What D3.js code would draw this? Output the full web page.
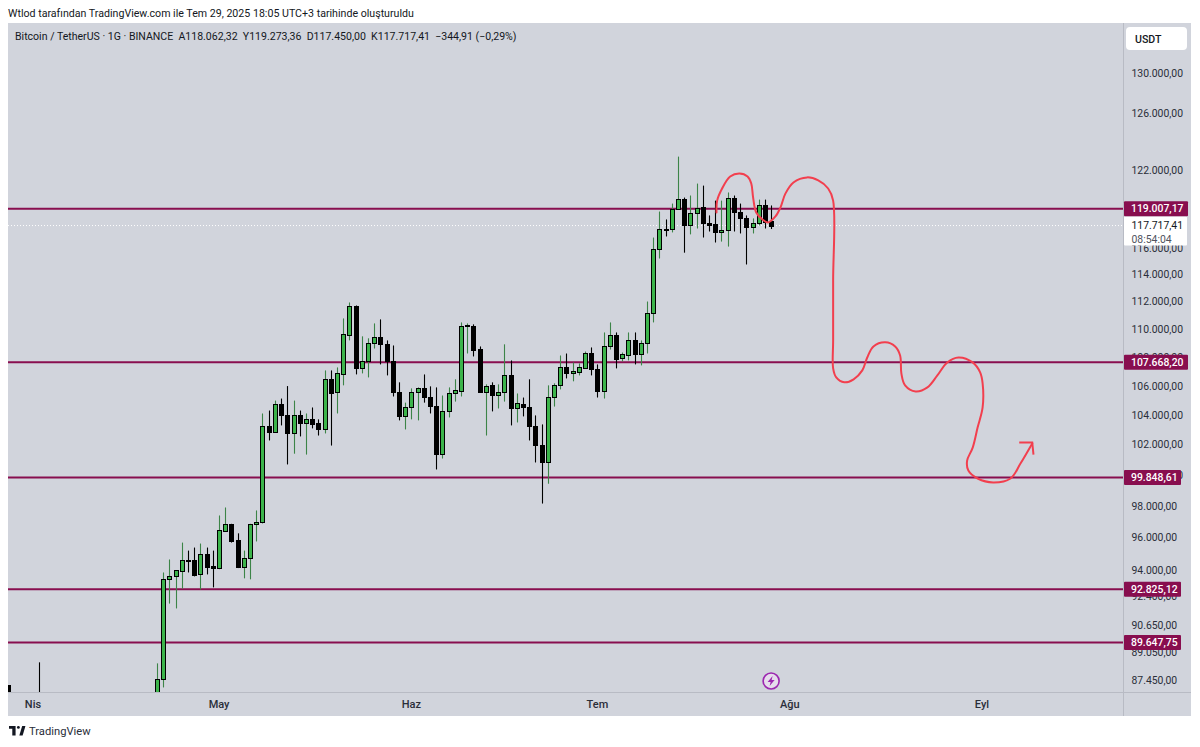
<!DOCTYPE html>
<html><head><meta charset="utf-8">
<script src="https://cdn.jsdelivr.net/npm/d3@7"></script>
<style>html,body{margin:0;padding:0;background:#fff}svg{display:block}text{font-family:Roboto,sans-serif}</style>
</head><body><div id="c"></div>
<script>
const titleText="Wtlod tarafından TradingView.com ile Tem 29, 2025 18:05 UTC+3 tarihinde oluşturuldu";
const legendParts=["Bitcoin / TetherUS · 1G · BINANCE","A118.062,32","Y119.273,36","D117.450,00","K117.717,41","−344,91 (−0,29%)"];
const firstCandle="2025-04-21";
const opens=[85200,87520,93430,93610,93910,94590,94590,93730,94960,94220,94100,96400,96840,95830,94160,94710,96840,96970,103240,102900,104800,104050,102770,104050,103450,103720,103450,103040,106470,105560,106810,109570,111660,107230,107720,109000,109430,108930,107720,105560,103920,104530,105560,105840,105280,104660,101420,104260,105490,105630,110220,110220,108630,105560,106050,105350,105560,106740,104460,104800,104590,103240,102020,100900,105280,106050,107300,106880,106950,107230,108280,107160,105630,108780,109570,107930,108140,109210,108210,109000,111150,115950,117490,117420,119030,119800,117730,118650,119190,117880,117800,117190,117340,119890,118730,118270,117570,117880,119340,118062.32];
const highs=[88440,93850,94650,93980,95700,95200,95390,95640,95390,95200,97410,97920,96880,96280,95200,96880,97730,104120,104320,105000,105140,106000,105000,104320,104120,104530,103720,107090,107090,107300,110790,111950,111730,109500,109360,110430,110720,109210,108850,106260,104860,105840,105910,106810,105980,105910,105350,105910,106470,110500,110430,110360,108780,106120,106260,106120,108930,107790,105490,105210,106470,103990,103380,106050,106190,108140,108280,107650,107580,108420,108710,107510,109780,110500,109780,108350,109780,109780,109210,112020,116800,118800,118190,119420,123140,119890,120050,120990,120830,118500,119650,119650,120290,120050,119420,118500,118270,119730,119730,119273.36];
const lows=[85100,87060,91960,91670,92870,93850,93610,92810,93730,92940,94050,96400,95700,94120,93490,93430,95770,96900,102300,102840,103310,100710,101420,102570,101360,103110,102630,102770,101960,104120,106050,109210,106810,106880,106600,108630,107510,106740,105280,103650,103040,103720,103650,104860,104120,100380,101100,103850,104930,105280,108280,108070,105560,102630,104260,104460,104930,103310,103510,103920,102300,100840,98170,99450,104590,105770,106530,106330,106740,107230,106740,105210,105140,108560,107230,107720,107790,107510,107440,108280,110500,115210,116880,117190,119030,115650,117040,117490,116800,117260,116420,116490,116110,117260,117110,114760,117110,117730,117490,117450];
const closes=[87520,93430,93610,93980,94590,94530,93670,94960,94160,94100,96460,96840,95770,94160,94710,96840,96970,103240,102900,104800,104050,102770,104050,103450,103720,103380,103040,106470,105490,106880,109640,111660,107230,107720,109000,109430,108930,107720,105560,103920,104530,105560,105840,105280,104660,101420,104260,105490,105700,110220,110290,108560,105560,105980,105350,105560,106740,104460,104860,104590,103240,102020,100900,105280,106050,107300,106880,107020,107300,108280,107160,105630,108780,109570,107860,108210,109210,108210,109000,111150,115950,117490,117420,119030,119800,117730,118650,119110,117880,117730,117190,117340,119890,118730,118270,117570,117880,119340,117960,117717.41];
const earlyDates=["2025-03-28","2025-04-02"];
const earlyOpens=[87200,85000];
const earlyHighs=[87200,88500];
const earlyLows=[84000,82000];
const earlyCloses=[84300,83000];
const levels=[119007.17,107668.20,99848.61,92825.12,89647.75];
const levelLabels=["119.007,17","107.668,20","99.848,61","92.825,12","89.647,75"];
const axisValues=[130000,126650,122000,118000,116000,114000,112000,110000,108000,106000,104000,102000,100000,98000,96000,94000,92400,90650,89050,87450];
const axisLabels=["130.000,00","126.000,00","122.000,00","118.000,00","116.000,00","114.000,00","112.000,00","110.000,00","108.000,00","106.000,00","104.000,00","102.000,00","100.000,00","98.000,00","96.000,00","94.000,00","92.400,00","90.650,00","89.050,00","87.450,00"];
const monthDates=["2025-04-01","2025-05-01","2025-06-01","2025-07-01","2025-08-01","2025-09-01"];
const monthLabels=["Nis","May","Haz","Tem","Ağu","Eyl"];
const lastPrice=117717.41, lastLabel="117.717,41", countdown="08:54:04";
// freehand forecast: days after 1 April, price
const sketchDays=[110.2,110.3,111.1,112.4,113.9,115.2,115.8,116.1,116.6,117.6,118.5,119.7,120.5,121.3,122.6,124.8,126.6,128.2,129,129,129,129,129.5,130.8,132.3,133.7,134.5,135.5,137.4,139,139.8,140,140.6,142.3,144.2,145.8,147.4,149.2,151.5,152.7,153.1,153.1,152.3,151.5,150.6,150.8,152.3,154.8,157.6,159.2,161.1];
const sketchPrices=[118726,119650,120600,121550,121790,121550,120990,119890,118726,118190,117960,118420,119110,120200,121080,121480,121240,120600,119650,113570,109210,107230,106600,106260,106470,107090,108000,108780,109070,108780,108140,106880,106050,105630,105910,106740,107650,108000,107650,106950,106190,104530,103180,101820,100960,100310,99790,99530,99790,100770,102100];
const arrowDays=[159,161.1,161.3];
const arrowPrices=[102170,102170,101360];

const W=1200,H=747,L=8,R=1123,PR=1191,T=23,B=692,BB=716;
const bg="#d1d4dc",maroon="#880e4f",red="#f23f4e",up="#3cb44b",upWick="#3c8448",ink="#131722";
const day0=new Date("2025-04-01T00:00:00Z");
const toDate=s=>new Date(s+"T00:00:00Z");
const x=d3.scaleUtc().domain([toDate("2025-04-01"),toDate("2025-09-01")]).range([33,982]);
const y=d3.scaleLog().domain([130000,87450]).range([73.6,680.6]);
const svg=d3.select("#c").append("svg").attr("width",W).attr("height",H);
svg.append("rect").attr("x",L).attr("y",T).attr("width",PR-L).attr("height",BB-T).attr("fill",bg);
svg.append("defs").append("clipPath").attr("id","pane").append("rect").attr("x",L).attr("y",T).attr("width",R-L).attr("height",B-T);
svg.append("line").attr("x1",L).attr("x2",PR).attr("y1",B+.5).attr("y2",B+.5).attr("stroke","#b8bbc4");
svg.append("line").attr("x1",R+.5).attr("x2",R+.5).attr("y1",T).attr("y2",BB).attr("stroke","#b8bbc4");
svg.append("text").attr("x",8).attr("y",17).attr("font-size",10.63).attr("fill",ink).text(titleText);
svg.append("text").attr("y",40).attr("x",15).attr("font-size",10.55).attr("fill",ink).style("white-space","pre").text(legendParts.join("  "));

const candles=earlyDates.map((d,i)=>({d:toDate(d),o:earlyOpens[i],h:earlyHighs[i],l:earlyLows[i],c:earlyCloses[i]}))
 .concat(opens.map((o,i)=>({d:d3.utcDay.offset(toDate(firstCandle),i),o,h:highs[i],l:lows[i],c:closes[i]})));
const pane=svg.append("g").attr("clip-path","url(#pane)");
pane.append("line").attr("x1",L).attr("x2",R).attr("y1",y(lastPrice)).attr("y2",y(lastPrice)).attr("stroke","#fff").attr("stroke-dasharray","1 2");
pane.selectAll(".lvl").data(levels).join("line").attr("x1",L).attr("x2",R).attr("y1",d=>y(d)).attr("y2",d=>y(d)).attr("stroke",maroon).attr("stroke-width",2);
const g=pane.selectAll(".cd").data(candles).join("g");
g.append("line").attr("x1",d=>Math.round(x(d.d))+.5).attr("x2",d=>Math.round(x(d.d))+.5).attr("y1",d=>y(d.h)).attr("y2",d=>y(d.l))
 .attr("stroke",d=>d.c>=d.o?upWick:"#000").attr("stroke-width",1.1);
g.append("rect").attr("x",d=>Math.round(x(d.d))-1.5).attr("width",4).attr("y",d=>Math.round(y(Math.max(d.o,d.c)))+.5)
 .attr("height",d=>Math.max(1,Math.round(y(Math.min(d.o,d.c)))-Math.round(y(Math.max(d.o,d.c)))))
 .attr("fill",d=>d.c>=d.o?up:"#000").attr("stroke","#000").attr("stroke-width",1);
const dayX=n=>d3.utcMillisecond.offset(day0,n*864e5);
const ln=d3.line().x(d=>x(dayX(d[0]))).y(d=>y(d[1]));
pane.append("path").attr("d",ln.curve(d3.curveCatmullRom.alpha(.5))(sketchDays.map((d,i)=>[d,sketchPrices[i]]))).attr("fill","none").attr("stroke",red).attr("stroke-width",2).attr("stroke-linecap","round").attr("stroke-linejoin","round");
pane.append("path").attr("d",ln.curve(d3.curveLinear)(arrowDays.map((d,i)=>[d,arrowPrices[i]]))).attr("fill","none").attr("stroke",red).attr("stroke-width",2);

const ax=svg.append("g");
ax.selectAll("text").data(axisValues).join("text").attr("x",1131.5).attr("y",d=>y(d)+3.5).attr("fill","#2a2e39").attr("font-size",10.4).text((d,i)=>axisLabels[i]);
const tm=svg.append("g");
tm.selectAll("text").data(monthDates).join("text").attr("x",d=>x(toDate(d))).attr("y",708).attr("text-anchor","middle").attr("font-size",11).attr("font-weight",500).attr("fill","#2a2e39").text((d,i)=>monthLabels[i]);

const tags=svg.append("g");
const tagW=[64,64,57,57,57];
levels.forEach((v,i)=>{
 if(i==0){
  tags.append("rect").attr("x",1124).attr("y",y(lastPrice)-9).attr("width",63).attr("height",29).attr("fill","#fff").attr("rx",1);
  tags.append("text").attr("x",1131.5).attr("y",y(lastPrice)+3.5).attr("font-size",10.4).attr("fill","#131722").text(lastLabel);
  tags.append("text").attr("x",1131.5).attr("y",y(lastPrice)+17).attr("font-size",10.4).attr("fill","#50535e").text(countdown);
 }
 tags.append("rect").attr("x",1124).attr("y",y(v)-7.5).attr("width",tagW[i]).attr("height",15).attr("fill",maroon).attr("rx",1);
 tags.append("text").attr("x",1131).attr("y",y(v)+3.5).attr("font-size",10.4).attr("font-weight",500).attr("fill","#fff").text(levelLabels[i]);
});
svg.append("rect").attr("x",1126).attr("y",27).attr("width",61).attr("height",23).attr("rx",4).attr("fill","#fff");
svg.append("text").attr("x",1135).attr("y",43).attr("font-size",10.6).attr("font-weight",500).attr("fill","#131722").text("USDT");

const ic=svg.append("g").attr("transform",`translate(${x(toDate("2025-07-29"))},681)`);
ic.append("circle").attr("r",8).attr("fill","#e6dcec").attr("stroke","#9c27b0").attr("stroke-width",1.6);
ic.append("path").attr("d","M1.5,-5 L-3.5,1 L-0.5,1 L-1.5,5 L3.5,-1 L0.5,-1 Z").attr("fill","#9c27b0");

const lo=svg.append("g").attr("transform","translate(9,726) scale(.47)").attr("fill","#131722");
lo.append("path").attr("d","M14 0H-0v6h7v14h7V0Z");
lo.append("circle").attr("cx",20).attr("cy",3).attr("r",3);
lo.append("path").attr("d","M29 20h-7L28 0h7L29 20Z");
svg.append("text").attr("x",29).attr("y",735).attr("font-size",11.2).attr("fill","#2a2e39").text("TradingView");
</script></body></html>
